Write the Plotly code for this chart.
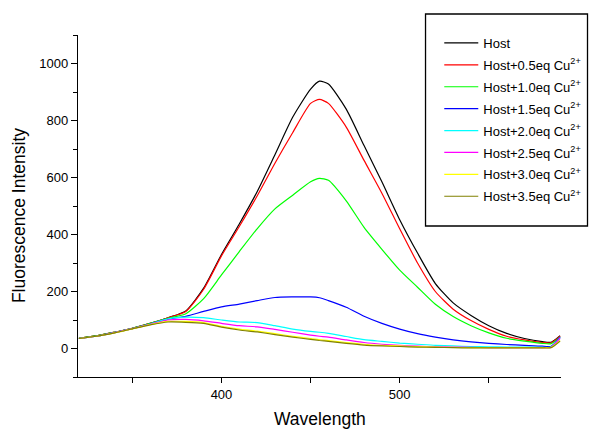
import plotly.graph_objects as go

wavelength = [320, 330, 340, 350, 360, 370, 380, 390, 400, 410, 420, 430, 440, 450, 455,
              460, 470, 480, 490, 500, 510, 520, 530, 540, 550, 560, 570, 580, 585, 590]

host = [36, 44, 57, 71, 88, 108, 132, 212, 330, 437, 550, 680, 812, 910, 938,
        928, 840, 712, 585, 452, 335, 228, 160, 116, 80, 53, 35, 24, 22, 45]
host_05 = [36, 44, 57, 71, 88, 108, 130, 208, 325, 428, 535, 650, 758, 860, 874,
           860, 777, 660, 545, 420, 300, 200, 138, 98, 67, 43, 30, 21, 20, 43]
host_10 = [36, 44, 57, 71, 88, 106, 122, 175, 258, 340, 420, 490, 538, 585, 597,
           590, 518, 425, 348, 275, 215, 155, 112, 80, 55, 36, 26, 18, 17, 40]
host_15 = [35, 43, 56, 70, 86, 103, 113, 130, 146, 156, 168, 179, 181, 181, 178,
           168, 145, 113, 88, 68, 52, 40, 30, 23, 18, 14, 11, 8, 8, 40]
host_20 = [35, 43, 56, 70, 86, 104, 110, 108, 100, 93, 91, 80, 68, 60, 57,
           53, 42, 31, 25, 19, 15, 11, 9, 7, 6, 5, 5, 4, 5, 38]
host_25 = [35, 43, 56, 70, 85, 100, 102, 97, 88, 80, 76, 67, 57, 47, 43,
           40, 30, 21, 15, 11, 8, 6, 5, 4, 3, 3, 3, 3, 4, 36]
host_30 = [35, 43, 55, 69, 84, 95, 95, 91, 78, 68, 61, 52, 43, 35, 31,
           28, 21, 15, 11, 9, 7, 5, 4, 3, 3, 3, 3, 3, 4, 28]
host_35 = [35, 43, 55, 69, 83, 93, 92, 88, 75, 65, 58, 49, 40, 32, 28,
           25, 18, 12, 9, 7, 5, 4, 3, 2, 2, 2, 2, 2, 3, 26]

series_names = ["Host", "Host+0.5eq Cu<sup>2+</sup>", "Host+1.0eq Cu<sup>2+</sup>",
                "Host+1.5eq Cu<sup>2+</sup>", "Host+2.0eq Cu<sup>2+</sup>",
                "Host+2.5eq Cu<sup>2+</sup>", "Host+3.0eq Cu<sup>2+</sup>",
                "Host+3.5eq Cu<sup>2+</sup>"]
series_values = [host, host_05, host_10, host_15, host_20, host_25, host_30, host_35]
series_colors = ["#000000", "#FF0000", "#00FF00", "#0000FF", "#00FFFF",
                 "#FF00FF", "#FFFF00", "#808000"]

x_tickvals = [400, 500]
x_minor_tickvals = [350, 450, 550]
y_tickvals = [0, 200, 400, 600, 800, 1000]

FONT = "Liberation Sans, Arial, sans-serif"

fig = go.Figure()
for i, (name, vals, col) in enumerate(zip(series_names, series_values, series_colors)):
    fig.add_trace(go.Scatter(x=wavelength, y=vals, mode="lines", name=name,
                             legendgroup="g%d" % i,
                             line=dict(color=col, width=1.2, shape="spline", smoothing=0.6)))

L, R, T, B = 78, 28, 35, 53
W, H = 598, 430
pw, ph = W - L - R, H - T - B

def px_x(px):
    return (px - L) / pw

def px_y(py):
    return (H - B - py) / ph

fig.update_layout(
    width=W, height=H,
    margin=dict(l=L, r=R, t=T, b=B, pad=0),
    paper_bgcolor="white", plot_bgcolor="white",
    font=dict(family=FONT, color="#000000", size=13),
    showlegend=True,
    legend=dict(x=px_x(446), y=px_y(28), xanchor="left", yanchor="top",
                bgcolor="rgba(0,0,0,0)", borderwidth=0, tracegroupgap=2, itemwidth=34,
                font=dict(family=FONT, size=13, color="#000000")),
    xaxis=dict(range=[319.5, 590.5], tickvals=x_tickvals,
               ticks="outside", ticklen=5, tickwidth=1, tickcolor="black",
               minor=dict(tickvals=x_minor_tickvals, ticks="outside", ticklen=5,
                          tickwidth=1, tickcolor="black", showgrid=False),
               showline=True, linecolor="black", linewidth=1.3,
               showgrid=False, zeroline=False, tickfont=dict(size=13)),
    yaxis=dict(range=[-100, 1100], tickvals=y_tickvals,
               ticks="outside", ticklen=6, tickwidth=1, tickcolor="black",
               minor=dict(dtick=100, tick0=0, ticks="outside", ticklen=4, tickcolor="black",
                          showgrid=False),
               showline=True, linecolor="black", linewidth=1.3,
               showgrid=False, zeroline=False, tickfont=dict(size=13)),
    shapes=[dict(type="rect", xref="paper", yref="paper",
                 x0=px_x(432), x1=px_x(597), y0=px_y(226), y1=px_y(14),
                 line=dict(color="black", width=1.3), fillcolor="rgba(0,0,0,0)")],
    annotations=[
        dict(text="Wavelength", xref="paper", yref="paper", x=px_x(324), y=px_y(419),
             xanchor="center", yanchor="middle", showarrow=False,
             font=dict(family=FONT, size=17.5)),
        dict(text="Fluorescence Intensity", xref="paper", yref="paper", x=px_x(18), y=px_y(216),
             xanchor="center", yanchor="middle", textangle=-90, showarrow=False,
             font=dict(family=FONT, size=17.5)),
    ],
)

fig.write_html("out.html", config={"displayModeBar": False},
               post_script="document.body.style.margin='0';document.body.style.overflow='hidden';")
